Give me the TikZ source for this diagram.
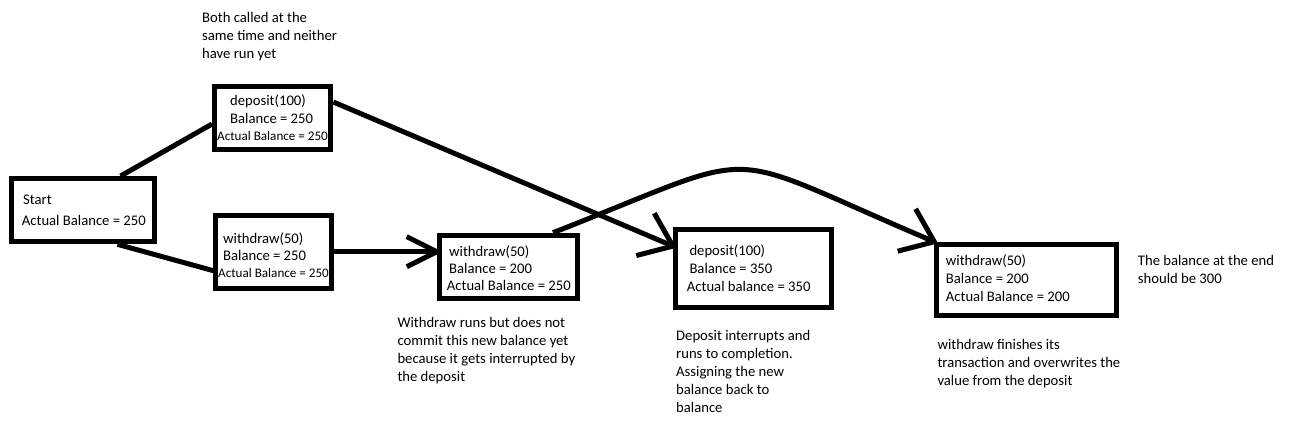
\documentclass[tikz,border=0pt]{standalone}
\usepackage{fontspec}
\setmainfont{Carlito}
\usetikzlibrary{arrows.meta,calc}
\newcommand\txtlines[1]{\begin{tabular}[t]{@{}l@{}}#1\end{tabular}}
\newcommand\smbal{\fontsize{13.1}{17}\selectfont}
\begin{document}
\begin{tikzpicture}[x=1pt,y=-1pt,
  box/.style={draw, line width=5pt, rectangle, inner sep=0pt},
  conn/.style={line width=5pt},
  barb/.style={-{Straight Barb[length=30pt,width=46pt]}},
  txt/.style={anchor=base west, inner sep=0pt, font=\fontsize{14.67}{18}\selectfont},
  txtb/.style={anchor=base west, inner sep=0pt, font=\fontsize{14.67}{17.2}\selectfont},
  ]
\useasboundingbox (0,0) rectangle (1296,433);

% boxes
\node[box, minimum width=142.7, minimum height=63.3] (start) at (82.9,210.2) {};
\node[box, minimum width=116.3, minimum height=62.4] (dep1) at (272.7,118) {};
\node[box, minimum width=115.7, minimum height=73] (wd1) at (273.7,251.7) {};
\node[box, minimum width=137.7, minimum height=63] (wd2) at (508.7,266.7) {};
\node[box, minimum width=156.6, minimum height=77.7] (dep2) at (753.5,268.7) {};
\node[box, minimum width=180.3, minimum height=70.4] (wd3) at (1026.7,280) {};

% box texts
\node[txt] (startt) at (23,204.3) {\txtlines{Start\\[2.7pt] \hspace*{-1.3pt}Actual Balance = 250}};
\node[txtb] (dep1t) at (230,106) {\txtlines{deposit(100)\\ Balance = 250\\ \hspace*{-13pt}{\smbal Actual Balance = 250}}};
\node[txtb] (wd1t) at (223,243.3) {\txtlines{withdraw(50)\\ Balance = 250\\ \hspace*{-5pt}{\smbal Actual Balance = 250}}};
\node[txtb] (wd2t) at (449,256) {\txtlines{withdraw(50)\\ Balance = 200\\ \hspace*{-2.3pt}Actual Balance = 250}};
\node[txt] (dep2t) at (689.3,255) {\txtlines{deposit(100)\\ Balance = 350\\ \hspace*{-2.6pt}Actual balance = 350}};
\node[txt] (wd3t) at (945.7,265) {\txtlines{withdraw(50)\\ Balance = 200\\ Actual Balance = 200}};

% annotations
\node[txt] (note1) at (202,23) {\txtlines{Both called at the\\ same time and neither\\ have run yet}};
\node[txt] (note2) at (397.3,327.7) {\txtlines{Withdraw runs but does not\\ commit this new balance yet\\ because it gets interrupted by\\ the deposit}};
\node[txt] (note3) at (676,340) {\txtlines{Deposit interrupts and\\ runs to completion.\\ Assigning the new\\ balance back to\\ balance}};
\node[txt] (note4) at (937.3,349.3) {\txtlines{withdraw finishes its\\ transaction and overwrites the\\ value from the deposit}};
\node[txt] (note5) at (1137.7,265) {\txtlines{The balance at the end\\ should be 300}};

% connectors
\draw[conn] ($(start.north west)+(111.5,0)$) -- ($(dep1.west)+(0,6)$);
\draw[conn] ($(start.south west)+(108.5,0)$) -- ($(wd1.west)+(0,19)$);
\draw[conn, -{Straight Barb[length=30pt,width=30pt]}] (wd1.east) -- ($(wd2.west |- wd1.east)+(5,0)$);
\draw[conn, barb] ($(dep1.east)+(0,-16)$) -- ($(dep2.west)+(4,-21)$);
\draw[conn, barb] ($(wd2.north)+(44.3,0)$) .. controls ($(wd2.north)+(264,-86)$) and ($(wd3.north west)+(-223,-95)$) .. ($(wd3.north west)+(4,1)$);
\end{tikzpicture}
\end{document}
